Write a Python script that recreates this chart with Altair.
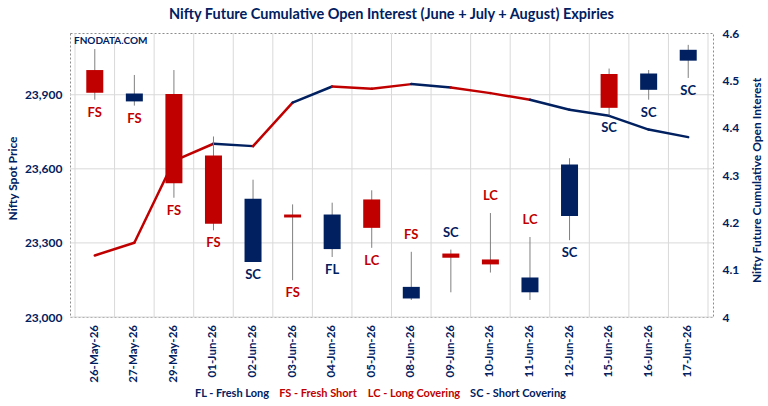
import altair as alt
import pandas as pd

# ---------------- data ----------------
dates = ["26-May-26", "27-May-26", "29-May-26", "01-Jun-26", "02-Jun-26", "03-Jun-26",
         "04-Jun-26", "05-Jun-26", "08-Jun-26", "09-Jun-26", "10-Jun-26", "11-Jun-26",
         "12-Jun-26", "15-Jun-26", "16-Jun-26", "17-Jun-26"]
open_px = [24000, 23873, 23903, 23654, 23223, 23415, 23275, 23476,
           23075, 23257, 23233, 23100, 23409, 23984, 23920, 24038]
close_px = [23908, 23905, 23542, 23378, 23479, 23403, 23415, 23361,
            23122, 23240, 23213, 23160, 23618, 23847, 23986, 24082]
high_px = [24085, 23980, 24000, 23731, 23556, 23456, 23463, 23513,
           23264, 23273, 23421, 23324, 23643, 24006, 24000, 24102]
low_px = [23880, 23856, 23483, 23351, 23223, 23149, 23243, 23280,
          23069, 23100, 23180, 23069, 23311, 23816, 23880, 23968]
open_interest = [4.13, 4.157, 4.33, 4.366, 4.361, 4.453, 4.487, 4.482,
                 4.492, 4.485, 4.473, 4.459, 4.438, 4.425, 4.396, 4.38]
activity = ["FS", "FS", "FS", "FS", "SC", "FS", "FL", "LC",
            "FS", "SC", "LC", "LC", "SC", "SC", "SC", "SC"]
label_side = ["below"] * 8 + ["above"] * 4 + ["below"] * 4

legend_texts = ["FL - Fresh Long", "FS - Fresh Short", "LC - Long Covering", "SC - Short Covering"]
left_ticks = [23000, 23300, 23600, 23900]
right_ticks = [4.0, 4.1, 4.2, 4.3, 4.4, 4.5, 4.6]

# ---------------- styling ----------------
NAVY = "#002060"
RED = "#C00000"
GRID = "#d9d9d9"
WICK = "#808080"
FONT = "Lato"
TITLE = "Nifty Future Cumulative Open Interest (June + July + August) Expiries"

n = len(dates)
df = pd.DataFrame({
    "i": list(range(n)), "date": dates, "open": open_px, "close": close_px,
    "high": high_px, "low": low_px, "oi": open_interest, "act": activity,
    "side": label_side,
})

seg = pd.DataFrame({
    "x0": list(range(n - 1)), "x1": list(range(1, n)),
    "y0": open_interest[:-1], "y1": open_interest[1:],
    "act": activity[1:],
})

grid_x = pd.DataFrame({"b": [k - 0.5 for k in range(n + 1)]})
grid_y = pd.DataFrame({"v": left_ticks})

xscale = alt.Scale(domain=[-0.5, n - 0.5], nice=False, zero=False)
yscale = alt.Scale(domain=[23000, 24150], nice=False, zero=False)
oiscale = alt.Scale(domain=[4.0, 4.6], nice=False, zero=False)

y_axis = alt.Axis(orient="left", values=left_ticks, format=",.0f", grid=False,
                  domain=False, ticks=False, labelPadding=8,
                  labelFont=FONT, labelFontSize=12, labelFontWeight="bold",
                  labelColor=NAVY, title="Nifty Spot Price", titleFont=FONT,
                  titleFontSize=12, titleFontWeight="bold", titleColor=NAVY,
                  titleAngle=270, titleX=-58, titleY=145, titleAlign="center",
                  titleBaseline="middle")

oi_axis = alt.Axis(orient="right", values=right_ticks, format="~g", grid=False,
                   domain=False, ticks=False, labelPadding=9, labelFont=FONT,
                   labelFontSize=12, labelFontWeight="bold", labelColor=NAVY,
                   title="Nifty Future Cumulative Open Interest", titleFont=FONT,
                   titleFontSize=12, titleFontWeight="bold", titleColor=NAVY,
                   titleAngle=270, titleX=43, titleY=147, titleAlign="center",
                   titleBaseline="middle")

red_cond = "datum.act == 'FS' || datum.act == 'LC'"

# vertical grid at category boundaries
vgrid = alt.Chart(grid_x).mark_rule(color=GRID, strokeWidth=1).encode(
    x=alt.X("b:Q", scale=xscale, axis=None)
)

# horizontal grid at the left-axis ticks
hgrid = alt.Chart(grid_y).mark_rule(color=GRID, strokeWidth=1).encode(
    y=alt.Y("v:Q", scale=yscale, axis=None)
)

wicks = alt.Chart(df).mark_rule(color=WICK, strokeWidth=1).encode(
    x=alt.X("i:Q", scale=xscale, axis=None),
    y=alt.Y("low:Q", scale=yscale, axis=y_axis),
    y2="high:Q",
)

oi_line = alt.Chart(seg).mark_rule(strokeWidth=2.5, strokeCap="round").encode(
    x=alt.X("x0:Q", scale=xscale, axis=None),
    x2="x1:Q",
    y=alt.Y("y0:Q", scale=oiscale, axis=oi_axis),
    y2="y1:Q",
    color=alt.condition(red_cond, alt.value(RED), alt.value(NAVY)),
)

bodies = alt.Chart(df).mark_bar(size=17).encode(
    x=alt.X("i:Q", scale=xscale, axis=None),
    y=alt.Y("open:Q", scale=yscale, axis=None),
    y2="close:Q",
    color=alt.condition("datum.close < datum.open", alt.value(RED), alt.value(NAVY)),
)

lab_color = alt.condition(red_cond, alt.value(RED), alt.value(NAVY))

labels_below = alt.Chart(df).transform_filter("datum.side == 'below'").mark_text(
    font=FONT, fontSize=13, fontWeight="bold", baseline="middle", dy=13
).encode(
    x=alt.X("i:Q", scale=xscale, axis=None),
    y=alt.Y("low:Q", scale=yscale, axis=None),
    text="act:N",
    color=lab_color,
)

labels_above = alt.Chart(df).transform_filter("datum.side == 'above'").mark_text(
    font=FONT, fontSize=13, fontWeight="bold", baseline="middle", dy=-17
).encode(
    x=alt.X("i:Q", scale=xscale, axis=None),
    y=alt.Y("high:Q", scale=yscale, axis=None),
    text="act:N",
    color=lab_color,
)

# category (date) labels under the plot, placed through the x scale
date_labels = alt.Chart(df).mark_text(
    font=FONT, fontSize=11.5, fontWeight="bold", color=NAVY, angle=270,
    align="right", baseline="middle", dx=0
).encode(
    x=alt.X("i:Q", scale=xscale, axis=None),
    y=alt.value(292),
    text="date:N",
)

watermark = alt.Chart(pd.DataFrame({"t": ["FNODATA.COM"]})).mark_text(
    font=FONT, fontSize=10, fontWeight="bold", color=NAVY, align="left", baseline="middle"
).encode(x=alt.value(4), y=alt.value(8), text="t:N")

legend_layers = []
legend_colors = [NAVY, RED, RED, NAVY]
legend_cx = [162, 248, 344, 448]
for txt, col, lx in zip(legend_texts, legend_colors, legend_cx):
    legend_layers.append(
        alt.Chart(pd.DataFrame({"t": [txt]})).mark_text(
            font=FONT, fontSize=11, fontWeight="bold", color=col,
            align="center", baseline="middle"
        ).encode(x=alt.value(lx), y=alt.value(361), text="t:N")
    )

chart = alt.layer(
    vgrid, hgrid, oi_line, wicks, bodies, labels_below, labels_above,
    date_labels, watermark, *legend_layers
).resolve_scale(y="independent").properties(
    width=643, height=284,
    padding={"left": 70, "top": 33, "right": 55, "bottom": 89},
    autosize=alt.AutoSizeParams(type="none"),
    title=alt.TitleParams(TITLE, font=FONT, fontSize=14.5, fontWeight="bold",
                          color=NAVY, anchor="middle", frame="group", offset=5),
    background="white",
).configure_view(stroke="#8c8c8c", strokeDash=[2, 2], strokeWidth=1)

chart.save("out.html", embed_options={"renderer": "svg", "actions": False})
